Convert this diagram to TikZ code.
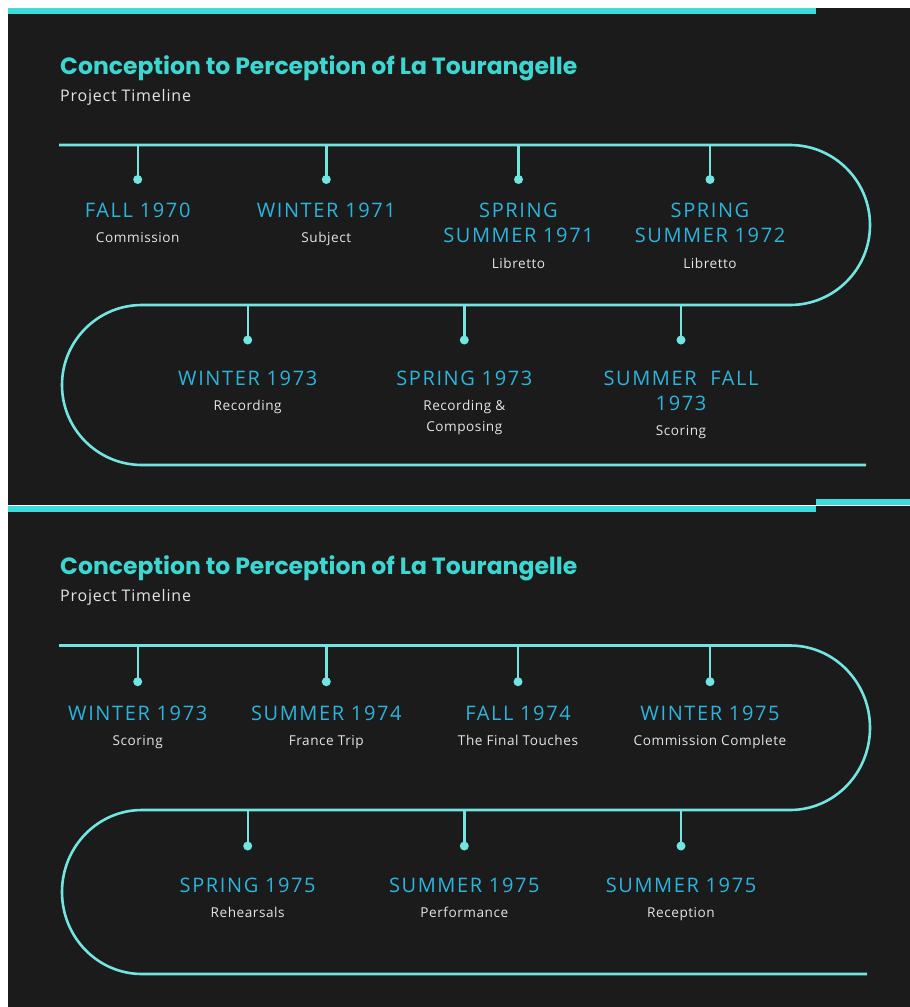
\documentclass[tikz,border=0pt]{standalone}
\usepackage{fontspec}
\setmainfont{Open Sans}
\newfontfamily\titlefont{Poppins}
\newfontfamily\datefont[LetterSpace=8]{Open Sans}
\newfontfamily\notefont[LetterSpace=4]{Open Sans}
\newfontfamily\subfont[LetterSpace=5]{Open Sans}
\usetikzlibrary{positioning}

\definecolor{panelbg}{HTML}{1B1B1B}
\definecolor{barteal}{HTML}{3DDBD9}
\definecolor{trackaqua}{HTML}{72E5E1}
\definecolor{titleteal}{HTML}{3DD6D0}
\definecolor{dateblue}{HTML}{2CB4DC}
\definecolor{notegrey}{HTML}{E4E4E4}

\tikzset{
  track/.style={draw=trackaqua, line width=2.6bp},
  stem/.style={draw=trackaqua, line width=2.4bp},
  eventdot/.style={circle, fill=trackaqua, inner sep=0, minimum size=9bp},
  date/.style={anchor=north, inner sep=0, align=center, text=dateblue,
    font=\datefont\fontsize{20bp}{25.5bp}\selectfont},
  note/.style={inner sep=0, align=center, text=notegrey,
    font=\notefont\fontsize{13.6bp}{20.7bp}\selectfont},
  heading/.style={anchor=base west, inner sep=0, text=titleteal,
    font=\titlefont\bfseries\fontsize{23.5bp}{28bp}\selectfont},
  subheading/.style={anchor=base west, inner sep=0, text=notegrey,
    font=\subfont\fontsize{16bp}{19bp}\selectfont},
}

\begin{document}
\begin{tikzpicture}[x=1bp, y=-1bp, node distance=14.5bp]
\useasboundingbox (0,0) rectangle (910,1007);
\fill[white] (0,0) rectangle (910,1007);

% first panel
\fill[panelbg] (8,8) rectangle (910,504.7);
\fill[barteal] (8,8) rectangle (816,13.5);
\fill[barteal] (816,499) rectangle (910,504.7);
\node[heading] (ta) at (60,74) {Conception to Perception of La Tourangelle};
\node[subheading] (sa) at (60,101.5) {Project Timeline};

\draw[track] (59,145) -- (790,145) arc[start angle=-90, end angle=90, radius=80]
  -- (142,305) arc[start angle=270, end angle=90, radius=80] -- (866,465);

\coordinate (a1t) at (137.7,145);
\coordinate (a2t) at (326.3,145);
\coordinate (a3t) at (518.5,145);
\coordinate (a4t) at (710,145);
\coordinate (a5t) at (247.7,305);
\coordinate (a6t) at (464.3,305);
\coordinate (a7t) at (681,305);

\node[eventdot] (a1d) at (137.7,179.5) {};
\node[eventdot] (a2d) at (326.3,179.5) {};
\node[eventdot] (a3d) at (518.5,179.5) {};
\node[eventdot] (a4d) at (710,179.5) {};
\node[eventdot] (a5d) at (247.7,340) {};
\node[eventdot] (a6d) at (464.3,340) {};
\node[eventdot] (a7d) at (681,340) {};
\foreach \i in {1,...,7}
  \draw[stem] (a\i t) -- (a\i d.center);

\node[date] (a1) at (137.7,202.7) {FALL 1970};
\node[date] (a2) at (326.3,202.7) {WINTER 1971};
\node[date] (a3) at (518.5,202.7) {SPRING\\SUMMER 1971};
\node[date] (a4) at (710,202.7) {SPRING\\SUMMER 1972};
\node[date] (a5) at (247.7,370.4) {WINTER 1973};
\node[date] (a6) at (464.3,370.4) {SPRING 1973};
\node[date] (a7) at (681,370.4) {SUMMER\ \ FALL\\1973};

\node[note, below=of a1] (a1n) {Commission};
\node[note, below=of a2] (a2n) {Subject};
\node[note, below=of a3] (a3n) {Libretto};
\node[note, below=of a4] (a4n) {Libretto};
\node[note, below=of a5] (a5n) {Recording};
\node[note, below=of a6] (a6n) {Recording \&\\Composing};
\node[note, below=of a7] (a7n) {Scoring};

% second panel
\fill[panelbg] (8,505.7) rectangle (910,1007);
\fill[barteal] (8,505.7) rectangle (816,511.5);
\node[heading] (tb) at (60,574) {Conception to Perception of La Tourangelle};
\node[subheading] (sb) at (60,601.5) {Project Timeline};

\draw[track] (59,645.5) -- (790,645.5) arc[start angle=-90, end angle=90, x radius=80, y radius=82.25]
  -- (142,810) arc[start angle=270, end angle=90, x radius=80, y radius=82] -- (867,974);

\coordinate (b1t) at (137.7,645.5);
\coordinate (b2t) at (326.3,645.5);
\coordinate (b3t) at (518,645.5);
\coordinate (b4t) at (710,645.5);
\coordinate (b5t) at (247.7,810);
\coordinate (b6t) at (464.3,810);
\coordinate (b7t) at (681,810);

\node[eventdot] (b1d) at (137.7,681.7) {};
\node[eventdot] (b2d) at (326.3,681.7) {};
\node[eventdot] (b3d) at (518,681.7) {};
\node[eventdot] (b4d) at (710,681.7) {};
\node[eventdot] (b5d) at (247.7,846) {};
\node[eventdot] (b6d) at (464.3,846) {};
\node[eventdot] (b7d) at (681,846) {};
\foreach \i in {1,...,7}
  \draw[stem] (b\i t) -- (b\i d.center);

\node[date] (b1) at (137.7,705.4) {WINTER 1973};
\node[date] (b2) at (326.3,705.4) {SUMMER 1974};
\node[date] (b3) at (518,705.4) {FALL 1974};
\node[date] (b4) at (710,705.4) {WINTER 1975};
\node[date] (b5) at (247.7,877.7) {SPRING 1975};
\node[date] (b6) at (464.3,877.7) {SUMMER 1975};
\node[date] (b7) at (681,877.7) {SUMMER 1975};

\node[note, below=of b1] (b1n) {Scoring};
\node[note, below=of b2] (b2n) {France Trip};
\node[note, below=of b3] (b3n) {The Final Touches};
\node[note, below=of b4] (b4n) {Commission Complete};
\node[note, below=of b5] (b5n) {Rehearsals};
\node[note, below=of b6] (b6n) {Performance};
\node[note, below=of b7] (b7n) {Reception};
\end{tikzpicture}
\end{document}
